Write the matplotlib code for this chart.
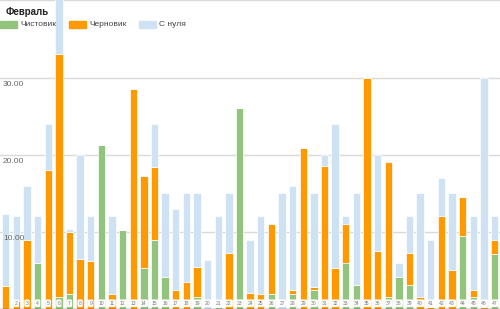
import numpy as np
import matplotlib.pyplot as plt

plt.rcParams['font.family'] = ['Liberation Sans', 'DejaVu Sans']

days = list(range(1, 48))
# Чистовик, Черновик, С нуля (segment heights)
clean = [0, 0, 0, 6.0, 0, 1.5, 2.0, 0, 0, 21.2, 0, 10.3, 0, 5.25, 9.0, 4.1,
         0, 0, 1.5, 0, 0.2, 0, 26.0, 0, 0, 2.0, 0, 2.0, 0, 2.5, 0, 0,
         6.0, 3.1, 0, 0, 1.5, 4.2, 3.1, 0, 0, 0, 0, 9.5, 1.5, 0, 7.1]
draft = [3.0, 1.0, 9.0, 0, 18.0, 31.5, 8.0, 6.5, 6.25, 0, 2.0, 0, 28.5, 11.95, 9.4, 0,
         2.5, 3.5, 4.0, 0, 0, 7.3, 0, 2.1, 2.0, 9.0, 0, 0.4, 20.9, 0.4, 18.5, 5.25,
         5.0, 0, 30.0, 7.5, 17.5, 0, 4.1, 1.6, 0.3, 12.0, 5.0, 5.0, 1.0, 0.3, 1.9]
scratch = [9.3, 11.0, 7.0, 6.0, 6.0, 9.0, 0.4, 13.5, 5.75, 0, 10.0, 0, 0, 0, 5.6, 10.9,
           10.5, 11.5, 9.5, 6.3, 11.8, 7.7, 0, 6.9, 10.0, 0, 15.0, 13.6, 0, 12.1, 1.5, 18.75,
           1.0, 11.9, 0, 12.5, 0, 1.8, 4.8, 13.4, 8.7, 5.0, 10.0, 0, 9.5, 29.7, 3.0]

green = '#93c47d'
orange = '#ff9900'
blue = '#cfe2f3'

fig = plt.figure(figsize=(5, 3.09), dpi=100)
ax = fig.add_axes([0, 0, 1, 1])

x = np.array(days)
c = np.array(clean)
d = np.array(draft)
s = np.array(scratch)
w = 0.69
ax.bar(x, c, w, color=green, edgecolor='white', linewidth=0.5, zorder=2)
ax.bar(x, d, w, bottom=c, color=orange, edgecolor='white', linewidth=0.5, zorder=2)
ax.bar(x, s, w, bottom=c + d, color=blue, edgecolor='white', linewidth=0.5, zorder=2)

ax.set_xlim(0.46, 47.52)
ax.set_ylim(0, 40.05)
for g in [10, 20, 30, 40]:
    ax.axhline(g, color='#d9d9d9', linewidth=1, zorder=1)
    if g < 40:
        ax.text(0.006, g - 0.85, '%.2f' % g, transform=ax.get_yaxis_transform(),
                fontsize=6, color='#666666', va='center', ha='left', zorder=4)
ax.axhline(0.05, color='#555555', linewidth=1, zorder=3)

# first label is cut off at the left edge in the original
for xi, lab in zip(x[1:], days[1:]):
    ax.text(xi, 0.75, str(lab), fontsize=3.6, color='#777777', ha='center', va='center',
            zorder=4, bbox=dict(boxstyle='round,pad=0.25', fc='white', ec='none'))

ax.axis('off')

fig.text(0.012, 0.962, 'Февраль', fontsize=7, fontweight='bold', color='#222222',
         va='center', ha='left')
items = [(0.0, green, 'Чистовик'), (0.138, orange, 'Черновик'), (0.278, blue, 'С нуля')]
for px, col, lab in items:
    fig.patches.append(plt.Rectangle((px, 0.908), 0.033, 0.024, transform=fig.transFigure,
                                     color=col, zorder=5))
    fig.text(px + 0.04, 0.92, lab, fontsize=6, color='#444444', va='center', ha='left')

fig.savefig('out.png', dpi=100)
